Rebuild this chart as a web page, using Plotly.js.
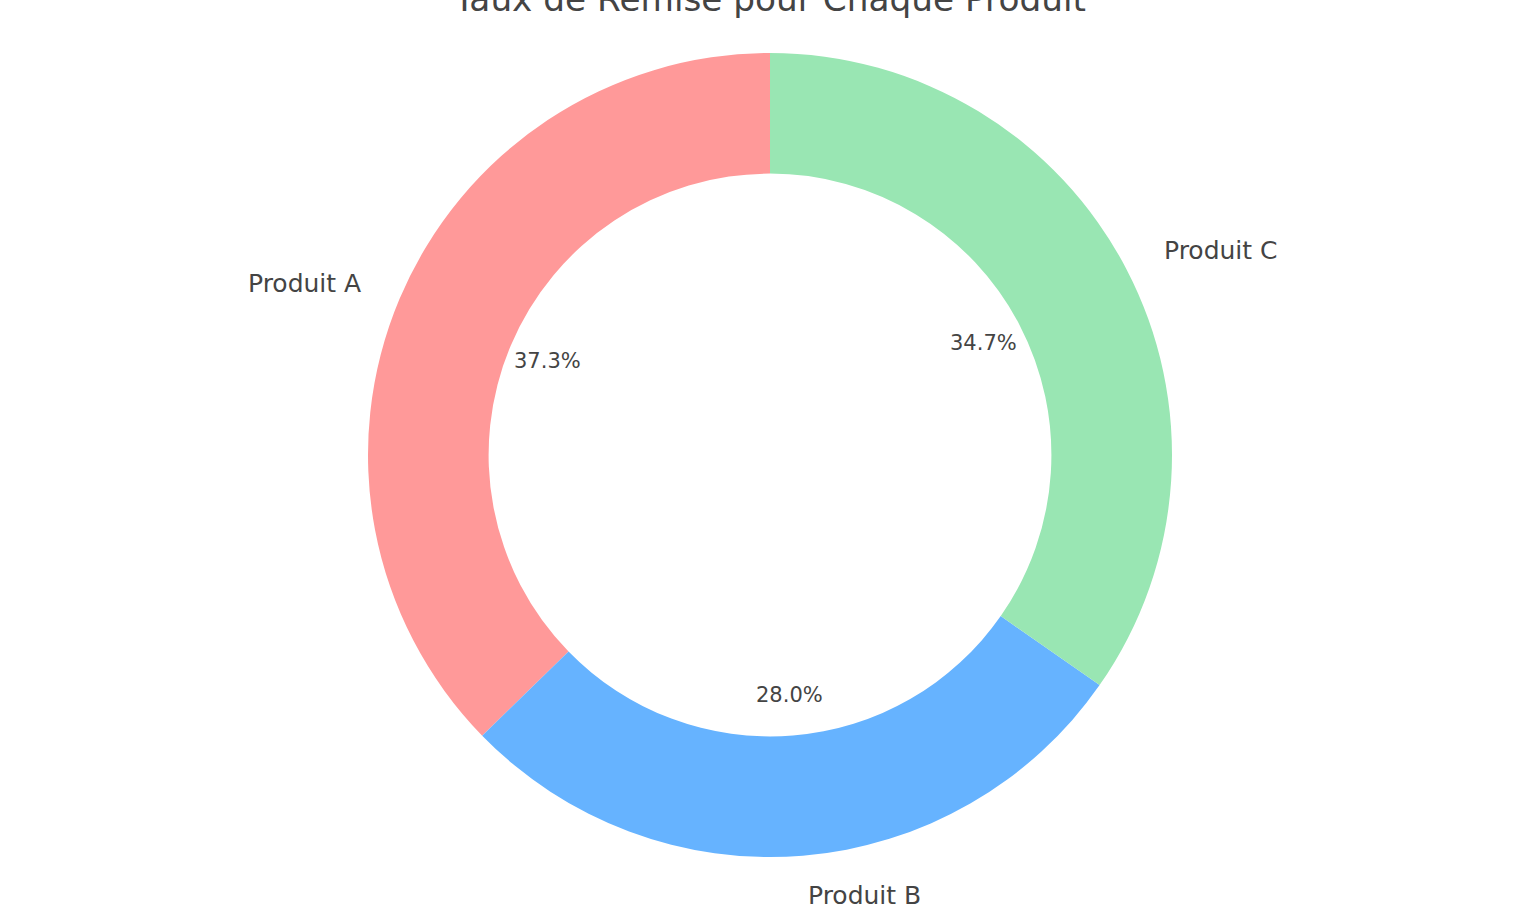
<!DOCTYPE html>
<html>
<head>
<meta charset="utf-8">
<script src="https://cdn.plot.ly/plotly-3.0.1.min.js"></script>
<style>
  html, body { margin: 0; padding: 0; background: #fff; }
  #chart { width: 1536px; height: 922px; }
</style>
</head>
<body>
<div id="chart"></div>
<script>
// donut: discount share per product
var produits = ['Produit A', 'Produit B', 'Produit C'];
var remises = [37.3, 28.0, 34.7];
var couleurs = ['#ff9999', '#66b3ff', '#99e6b3'];

var W = 1536, H = 922;
var marge = {l: 4, r: 0, t: 53, b: 65};
var plotW = W - marge.l - marge.r;
var plotH = H - marge.t - marge.b;
var R = Math.min(plotW, plotH) / 2;

var total = remises.reduce(function (a, b) { return a + b; }, 0);

// labels at 1.1 R and percents at 0.6 R, like the original
var annotations = [];
var cumul = 0;
remises.forEach(function (v, i) {
  var ang = (90 + 360 * (cumul + v / 2) / total) * Math.PI / 180;
  cumul += v;
  var cx = Math.cos(ang), cy = Math.sin(ang);
  annotations.push({
    xref: 'paper', yref: 'paper',
    x: 0.5 + cx * 1.1 * R / plotW,
    y: 0.5 + cy * 1.1 * R / plotH,
    xanchor: cx > 0 ? 'left' : 'right', yanchor: 'middle',
    text: produits[i], showarrow: false,
    font: {family: 'DejaVu Sans', size: 25, color: '#444444'}
  });
  annotations.push({
    xref: 'paper', yref: 'paper',
    x: 0.5 + cx * 0.6 * R / plotW,
    y: 0.5 + cy * 0.6 * R / plotH,
    xanchor: 'center', yanchor: 'middle',
    text: (100 * v / total).toFixed(1) + '%', showarrow: false,
    font: {family: 'DejaVu Sans', size: 21, color: '#444444'}
  });
});

var trace = {
  type: 'pie',
  labels: produits,
  values: remises,
  hole: 0.7,
  sort: false,
  direction: 'counterclockwise',
  // first slice must start at 12 o'clock going counterclockwise
  rotation: -360 * remises[0] / total,
  marker: {colors: couleurs, line: {width: 0}},
  textinfo: 'none',
  hoverinfo: 'label+percent',
  showlegend: false
};

var layout = {
  width: W, height: H,
  margin: marge,
  paper_bgcolor: '#ffffff',
  plot_bgcolor: '#ffffff',
  title: {
    text: 'Taux de Remise pour Chaque Produit',
    font: {family: 'DejaVu Sans', size: 34.3, color: '#444444'},
    xref: 'paper', x: 0.5, xanchor: 'center',
    yref: 'container', y: 1 - 11 / H, yanchor: 'bottom'
  },
  annotations: annotations
};

Plotly.newPlot('chart', [trace], layout, {displayModeBar: false, staticPlot: true});
</script>
</body>
</html>
